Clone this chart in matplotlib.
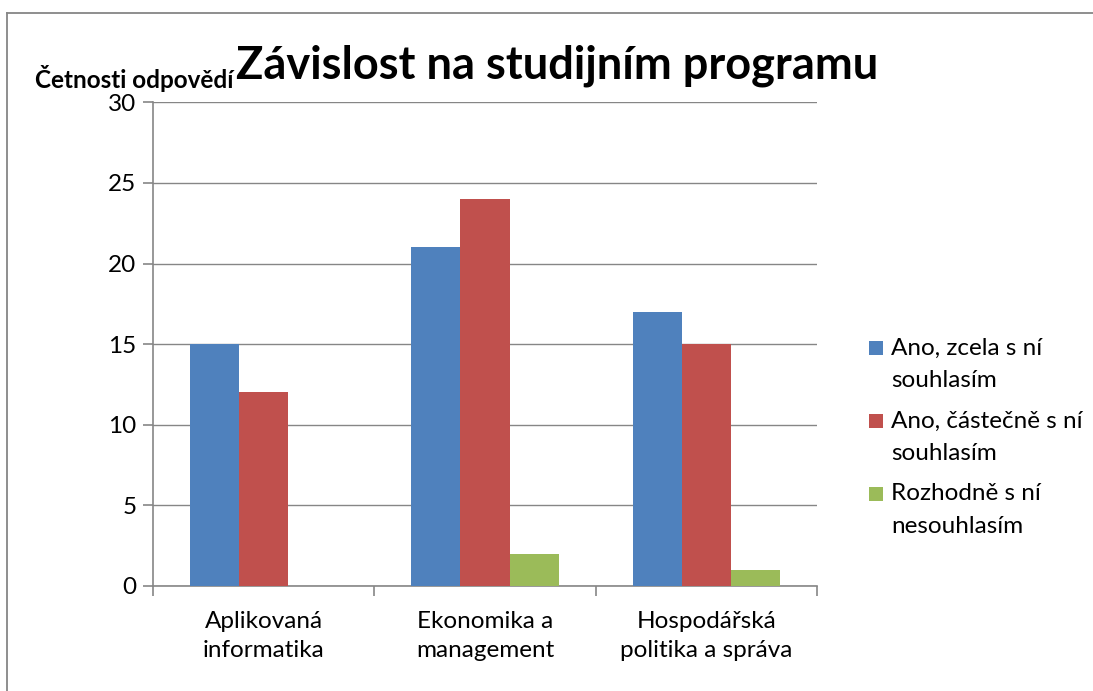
import matplotlib
matplotlib.use("Agg")
import matplotlib.pyplot as plt
from matplotlib.lines import Line2D
from matplotlib.patches import Rectangle
import numpy as np

categories = ["Aplikovaná\ninformatika", "Ekonomika a\nmanagement", "Hospodářská\npolitika a správa"]
series_names = ["Ano, zcela s ní\nsouhlasím", "Ano, částečně s ní\nsouhlasím", "Rozhodně s ní\nnesouhlasím"]
zcela = [15, 21, 17]
castecne = [12, 24, 15]
nesouhlasim = [0, 2, 1]
colors = ["#4F81BD", "#C0504D", "#9BBB59"]
yticks = [0, 5, 10, 15, 20, 25, 30]

plt.rcParams['font.family'] = ['Lato', 'DejaVu Sans']
FS = 17.5

fig = plt.figure(figsize=(10.93, 6.91), dpi=100)
ax = fig.add_axes([0.140, 0.152, 0.6075, 0.700])

x = np.arange(len(categories))
w = 1 / 4.5
for i, (vals, name, c) in enumerate(zip([zcela, castecne, nesouhlasim], series_names, colors)):
    ax.bar(x + (i - 1) * w, vals, width=w, color=c, label=name, zorder=3)

ax.set_xlim(-0.5, 2.5)
ax.set_ylim(0, 30)
ax.set_yticks(yticks)
ax.set_yticklabels([str(v) for v in yticks], fontsize=FS)
ax.set_xticks(x)
ax.set_xticklabels(categories, fontsize=FS, linespacing=1.45)
ax.set_xticks([-0.5, 0.5, 1.5, 2.5], minor=True)
ax.tick_params(axis='x', which='major', length=0, pad=18)
ax.tick_params(axis='x', which='minor', length=7, color='#868686', width=1.2)
ax.tick_params(axis='y', length=7, color='#868686', width=1.2, pad=5)
ax.grid(axis='y', color='#868686', linewidth=1, zorder=0)
for s in ['top', 'right']:
    ax.spines[s].set_visible(False)
for s in ['left', 'bottom']:
    ax.spines[s].set_color('#868686')
    ax.spines[s].set_linewidth(1.2)

W, H = 1093, 691
fig.text(557 / W, 1 - 66 / H, "Závislost na studijním programu", fontsize=32.5, fontweight='bold',
         ha='center', va='center')
fig.text(35 / W, 1 - 78 / H, "Četnosti odpovědí", fontsize=17.5, fontweight='bold',
         ha='left', va='center')

# legend: square aligned with the first line of each entry
first_line_y = [348, 421, 494]
for name, c, y0 in zip(series_names, colors, first_line_y):
    fig.add_artist(Rectangle((869 / W, 1 - (y0 + 7) / H), 14 / W, 14 / H,
                             transform=fig.transFigure, facecolor=c, edgecolor='none'))
    for k, line in enumerate(name.split("\n")):
        fig.text(891 / W, 1 - (y0 + k * 32.5) / H, line, fontsize=FS, ha='left', va='center')

# outer frame (top and left edges visible)
fig.add_artist(Line2D([7 / W, 7 / W], [0, 1 - 13 / H], transform=fig.transFigure,
                      color='#868686', linewidth=1.3))
fig.add_artist(Line2D([7 / W, 1], [1 - 13 / H, 1 - 13 / H], transform=fig.transFigure,
                      color='#868686', linewidth=1.3))

fig.savefig("out.png", dpi=100)
